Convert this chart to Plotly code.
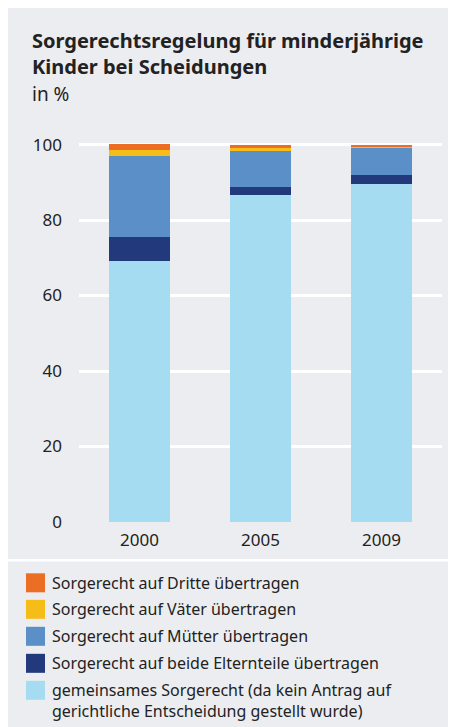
import plotly.graph_objects as go

years = ["2000", "2005", "2009"]
gemeinsam = [69.1, 86.6, 89.5]
beide = [6.4, 2.1, 2.4]
muetter = [21.5, 9.5, 7.2]
vaeter = [1.6, 0.8, 0.5]
dritte = [1.5, 0.8, 0.3]

series_names = [
    "gemeinsames Sorgerecht (da kein Antrag auf<br>gerichtliche Entscheidung gestellt wurde)",
    "Sorgerecht auf beide Elternteile übertragen",
    "Sorgerecht auf Mütter übertragen",
    "Sorgerecht auf Väter übertragen",
    "Sorgerecht auf Dritte übertragen",
]
series_values = [gemeinsam, beide, muetter, vaeter, dritte]
colors = ["#a6dcf1", "#22397b", "#5b8fc7", "#f6bd19", "#ec6d24"]

y_ticks = [0, 20, 40, 60, 80, 100]

# figure occupies the window minus the 8px page margin
W, H = 448, 719
L, R = 71, 434          # plot area in px (figure coords)
Y0, PXU = 513.7, 3.774  # baseline pixel and px per unit
YMAX = 102
T = Y0 - YMAX * PXU
B = Y0

def px(x):
    return (x - L) / (R - L)

def py(y):
    return (B - y) / (B - T)

FONT = "Noto Sans"
TXT = "#222222"
BG = "#ecedf0"

fig = go.Figure()
for name, vals, col in zip(series_names, series_values, colors):
    fig.add_trace(go.Bar(x=years, y=vals, name=name, marker_color=col,
                         marker_line_width=0, showlegend=False))

shapes = [
    dict(type="line", xref="paper", yref="paper", x0=px(-5), x1=px(W + 5),
         y0=py(552), y1=py(552), line=dict(color="white", width=2.5), layer="below"),
]

annotations = [
    dict(text="<b>Sorgerechtsregelung für minderjährige<br>Kinder bei Scheidungen</b>",
         xref="paper", yref="paper", x=px(22), y=py(17), xanchor="left", yanchor="top",
         showarrow=False, align="left", font=dict(family=FONT, size=20, color=TXT)),
    dict(text="in %", xref="paper", yref="paper", x=px(22), y=py(71),
         xanchor="left", yanchor="top", showarrow=False, align="left",
         font=dict(family=FONT, size=19, color=TXT)),
]

# manual legend (top of stack first)
row_y = [574.5, 601, 628, 655, 682]
for i, idx in enumerate([4, 3, 2, 1, 0]):
    cy = row_y[i]
    shapes.append(dict(type="rect", xref="paper", yref="paper",
                       x0=px(18), x1=px(37), y0=py(cy - 9.5), y1=py(cy + 9.5),
                       fillcolor=colors[idx], line_width=0))
    annotations.append(dict(text=series_names[idx], xref="paper", yref="paper",
                            x=px(42), y=py(cy - 13), xanchor="left", yanchor="top",
                            showarrow=False, align="left",
                            font=dict(family=FONT, size=16, color=TXT)))

fig.update_layout(
    width=W, height=H,
    margin=dict(l=L, r=W - R, t=T, b=H - B, pad=0),
    paper_bgcolor=BG, plot_bgcolor=BG,
    barmode="stack", bargap=0.496,
    shapes=shapes, annotations=annotations,
    font=dict(family=FONT, color=TXT),
    xaxis=dict(type="category", range=[-0.5, 2.5], showgrid=False, showline=False,
               zeroline=False, ticks="", tickfont=dict(family=FONT, size=17, color=TXT),
               ticklabelstandoff=6),
    yaxis=dict(range=[0, YMAX], tickvals=y_ticks, showgrid=True, gridcolor="white",
               gridwidth=2.5, zeroline=False, showline=False, ticks="",
               tickfont=dict(family=FONT, size=17, color=TXT), ticklabelstandoff=16),
)

fig.write_html("out.html")
